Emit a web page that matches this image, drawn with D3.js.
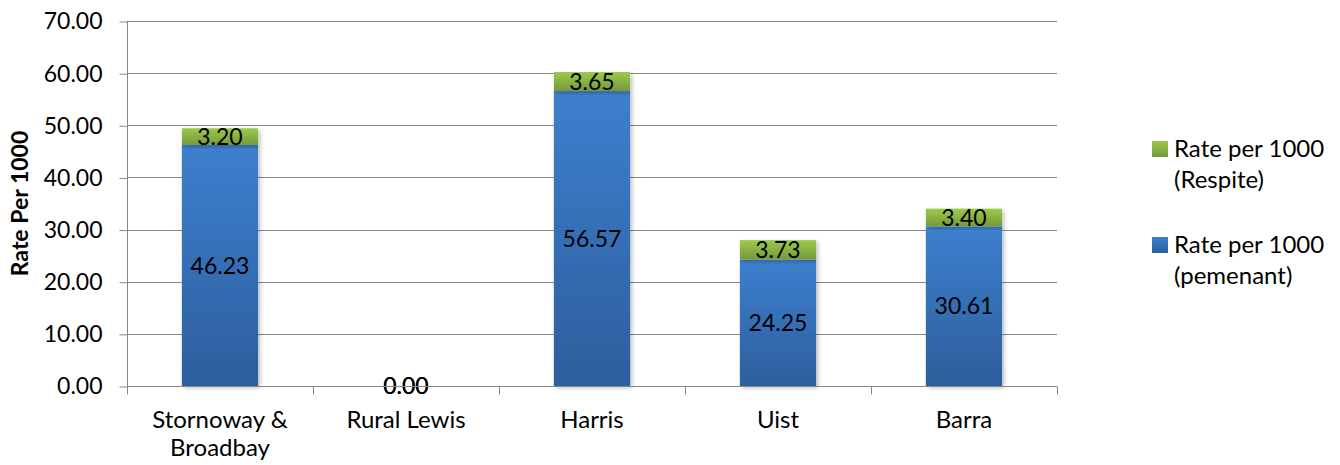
<!DOCTYPE html>
<html>
<head>
<meta charset="utf-8">
<script src="https://cdn.jsdelivr.net/npm/d3@7/dist/d3.min.js"></script>
<style>
  html, body { margin: 0; padding: 0; background: #fff; }
  svg text { font-family: Lato, "Open Sans", sans-serif; fill: #000; }
</style>
</head>
<body>
<svg id="chart" width="1340" height="465"></svg>
<script>
// Localities and their rates per 1000
const categories = ["Stornoway & Broadbay", "Rural Lewis", "Harris", "Uist", "Barra"];
const permanent = [46.23, 0.00, 56.57, 24.25, 30.61];
const respite = [3.20, 0.00, 3.65, 3.73, 3.40];
const yTicks = [0, 10, 20, 30, 40, 50, 60, 70];
const seriesNames = ["Rate per 1000 (pemenant)", "Rate per 1000 (Respite)"];

const FONT = "23px";
const LABEL_FONT = "24px";
const svg = d3.select("#chart");
const plot = { left: 127, right: 1057, top: 21, bottom: 386 };

const x = d3.scaleBand()
  .domain(categories)
  .range([plot.left, plot.right])
  .paddingInner(0.59)
  .paddingOuter(0.295);

const y = d3.scaleLinear().domain([0, 70]).range([plot.bottom, plot.top]);

const defs = svg.append("defs");
function grad(id, top, bottom) {
  const g = defs.append("linearGradient").attr("id", id)
    .attr("x1", 0).attr("y1", 0).attr("x2", 0).attr("y2", 1);
  g.append("stop").attr("offset", "0%").attr("stop-color", top);
  g.append("stop").attr("offset", "100%").attr("stop-color", bottom);
}
grad("gBlue", "#3d7fce", "#2d5e9d");
grad("gGreen", "#9dc94c", "#76993a");
const sh = defs.append("filter").attr("id", "shadow")
  .attr("x", "-10%").attr("y", "-10%").attr("width", "130%").attr("height", "130%");
sh.append("feDropShadow").attr("dx", 2).attr("dy", 2).attr("stdDeviation", 2)
  .attr("flood-color", "#000").attr("flood-opacity", 0.25);

// Gridlines
svg.append("g").selectAll("line").data(yTicks).join("line")
  .attr("x1", plot.left).attr("x2", plot.right)
  .attr("y1", d => Math.round(y(d)) + 0.5).attr("y2", d => Math.round(y(d)) + 0.5)
  .attr("stroke", "#868686").attr("stroke-width", 1);

// Y axis
const yAxis = d3.axisLeft(y).tickValues(yTicks).tickFormat(d3.format(".2f"))
  .tickSize(8).tickPadding(17);
const yg = svg.append("g").attr("transform", `translate(${plot.left + 0.5},0.5)`).call(yAxis);
yg.select(".domain").attr("stroke", "#868686").attr("d", `M0,${y(70)}V${y(0)}`);
yg.selectAll(".tick line").attr("stroke", "#868686");
yg.selectAll(".tick text").style("font-size", FONT).attr("fill", "#000");

// Stacked bars
const rows = categories.map((c, i) => ({ cat: c, p: permanent[i], r: respite[i] }));
const stack = d3.stack().keys(["p", "r"])(rows);
const fills = ["url(#gBlue)", "url(#gGreen)"];

const layers = svg.append("g").selectAll("g").data(stack).join("g")
  .attr("fill", (d, i) => fills[i]);
layers.selectAll("rect").data(d => d).join("rect")
  .attr("x", d => x(d.data.cat))
  .attr("width", x.bandwidth())
  .attr("y", d => y(d[1]))
  .attr("height", d => y(d[0]) - y(d[1]))
  .attr("filter", "url(#shadow)");

// Value labels centred in each segment
stack.forEach(layer => {
  svg.append("g").selectAll("text").data(layer).join("text")
    .attr("x", d => x(d.data.cat) + x.bandwidth() / 2)
    .attr("y", d => y((d[0] + d[1]) / 2))
    .attr("dy", "0.35em")
    .attr("text-anchor", "middle")
    .style("font-size", FONT)
    .text(d => d3.format(".2f")(d[1] - d[0]));
});

// X axis
const xg = svg.append("g").attr("transform", `translate(0,${Math.round(plot.bottom) + 0.5})`);
xg.append("line").attr("x1", plot.left).attr("x2", plot.right).attr("stroke", "#868686");
const bounds = categories.map(c => x(c) - x.step() * x.paddingInner() / 2).concat([plot.right]);
xg.selectAll("line.tk").data(bounds).join("line").attr("class", "tk")
  .attr("x1", d => Math.round(d) + 0.5).attr("x2", d => Math.round(d) + 0.5)
  .attr("y1", 0).attr("y2", 8).attr("stroke", "#868686");
const xLabels = [["Stornoway &", "Broadbay"], ["Rural Lewis"], ["Harris"], ["Uist"], ["Barra"]];
xg.selectAll("text").data(categories).join("text")
  .attr("text-anchor", "middle")
  .style("font-size", LABEL_FONT)
  .each(function (d, i) {
    const t = d3.select(this);
    xLabels[i].forEach((ln, j) => {
      t.append("tspan").attr("x", x(d) + x.bandwidth() / 2).attr("y", 41 + j * 28).text(ln);
    });
  });

// Y axis title
svg.append("text")
  .attr("transform", `translate(28,${(plot.top + plot.bottom) / 2}) rotate(-90)`)
  .attr("text-anchor", "middle")
  .style("font-size", "23px").style("font-weight", "bold")
  .text("Rate Per 1000");

// Legend (respite listed first)
const legendItems = [
  { lines: ["Rate per 1000", "(Respite)"], fill: "url(#gGreen)", top: 141 },
  { lines: ["Rate per 1000", "(pemenant)"], fill: "url(#gBlue)", top: 237 }
];
const lg = svg.append("g").selectAll("g").data(legendItems).join("g");
lg.append("rect").attr("x", 1152).attr("y", d => d.top).attr("width", 16).attr("height", 16)
  .attr("fill", d => d.fill);
lg.append("text").style("font-size", LABEL_FONT)
  .each(function (d) {
    const t = d3.select(this);
    d.lines.forEach((ln, j) => {
      t.append("tspan").attr("x", 1174).attr("y", d.top + 16 + j * 31).text(ln);
    });
  });
</script>
</body>
</html>
